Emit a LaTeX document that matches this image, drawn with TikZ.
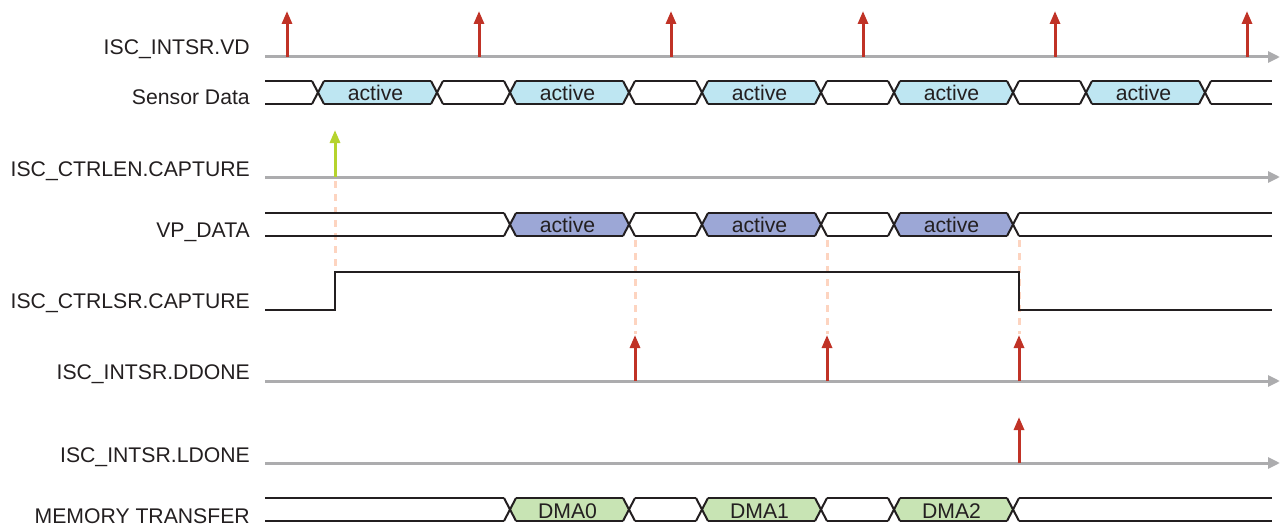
\documentclass[tikz,border=0pt]{standalone}
\usepackage{fontspec}
\setmainfont{Liberation Sans}
\usetikzlibrary{arrows.meta}
\definecolor{sigred}{RGB}{192,50,38}
\definecolor{siggreen}{RGB}{181,211,45}
\definecolor{axgray}{RGB}{172,172,174}
\definecolor{busblk}{RGB}{35,31,32}
\definecolor{dashor}{RGB}{253,212,192}
\definecolor{sensfill}{RGB}{190,230,242}
\definecolor{vpfill}{RGB}{156,167,214}
\definecolor{dmafill}{RGB}{200,228,180}
\tikzset{
  lbl/.style={anchor=east, text height=15.2pt, text depth=0pt, inner sep=0pt, text=busblk, font=\fontsize{21.2}{25}\selectfont},
  boxtxt/.style={text height=15.2pt, text depth=0pt, inner sep=0pt, text=busblk, font=\fontsize{21.2}{25}\selectfont},
  axis/.style={draw=axgray, line width=3pt, -{Triangle[width=11pt,length=12pt]}},
  bus/.style={draw=busblk, line width=2pt},
  lvl/.style={draw=busblk, line width=2.5pt},
  redarr/.style={draw=sigred, line width=3pt, -{Triangle[width=10pt,length=13pt]}},
  grnarr/.style={draw=siggreen, line width=3pt, -{Triangle[width=10pt,length=13pt]}},
  guide/.style={draw=dashor, line width=3pt, dash pattern=on 7pt off 6pt},
}
\begin{document}
\begin{tikzpicture}[x=1pt,y=-1pt]
\useasboundingbox (0,0) rectangle (1288,527);
% labels
\node[lbl] (l1) at (250,47) {ISC\_INTSR.VD};
\node[lbl] (l2) at (250,97) {Sensor Data};
\node[lbl] (l3) at (250,169) {ISC\_CTRLEN.CAPTURE};
\node[lbl] (l4) at (250,230) {VP\_DATA};
\node[lbl] (l5) at (250,301) {ISC\_CTRLSR.CAPTURE};
\node[lbl] (l6) at (250,372) {ISC\_INTSR.DDONE};
\node[lbl] (l7) at (250,455) {ISC\_INTSR.LDONE};
\node[lbl] (l8) at (250,516) {MEMORY TRANSFER};
% axis coordinates
\coordinate (vdS) at (265,57);   \coordinate (vdE) at (1280,57);
\coordinate (enS) at (265,177);  \coordinate (enE) at (1280,177);
\coordinate (ddS) at (265,381);  \coordinate (ddE) at (1280,381);
\coordinate (ldS) at (265,463);  \coordinate (ldE) at (1280,463);
% dashed guides
\draw[guide] (335,181) -- (335,270);
\foreach \x in {635,827,1019} {\draw[guide] (\x,240) -- (\x,334);}
% axes
\draw[axis] (vdS) -- (vdE);
\draw[axis] (enS) -- (enE);
\draw[axis] (ddS) -- (ddE);
\draw[axis] (ldS) -- (ldE);
% VD pulses
\foreach \x in {287,479,671,863,1055,1247} {\draw[redarr] (\x,57) -- (\x,11);}
% CTRLEN pulse
\draw[grnarr] (335,177) -- (335,130);
% DDONE pulses
\foreach \x in {635,827,1019} {\draw[redarr] (\x,381) -- (\x,335);}
% LDONE pulse
\draw[redarr] (1019,463) -- (1019,417);
% Sensor data bus
\foreach \a/\b in {318/437,510/629,702/821,894/1013,1086/1205}
  {\fill[sensfill] (\a,92.5) -- (\a+6,81) -- (\b-6,81) -- (\b,92.5) -- (\b-6,104) -- (\a+6,104) -- cycle;
   \node[boxtxt] (sd\a) at ({(\a+\b)/2-2},92.5) {active};}
\foreach \a/\b in {265/312,324/431,443/504,516/623,635/696,708/815,827/888,900/1007,1019/1080,1092/1199,1211/1272}
  {\draw[bus] (\a,81) -- (\b,81) (\a,104) -- (\b,104);}
\foreach \c in {318,437,510,629,702,821,894,1013,1086,1205}
  {\draw[bus] (\c-6,81) -- (\c+6,104) (\c-6,104) -- (\c+6,81);}
% VP_DATA bus
\foreach \a/\b in {510/629,702/821,894/1013}
  {\fill[vpfill] (\a,224.5) -- (\a+6,213) -- (\b-6,213) -- (\b,224.5) -- (\b-6,236) -- (\a+6,236) -- cycle;
   \node[boxtxt] (vp\a) at ({(\a+\b)/2-2},224.5) {active};}
\foreach \a/\b in {265/504,516/623,635/696,708/815,827/888,900/1007,1019/1272}
  {\draw[bus] (\a,213) -- (\b,213) (\a,236) -- (\b,236);}
\foreach \c in {510,629,702,821,894,1013}
  {\draw[bus] (\c-6,213) -- (\c+6,236) (\c-6,236) -- (\c+6,213);}
% Memory transfer bus
\foreach \a/\b/\t in {510/629/DMA0,702/821/DMA1,894/1013/DMA2}
  {\fill[dmafill] (\a,509.5) -- (\a+6,498) -- (\b-6,498) -- (\b,509.5) -- (\b-6,521) -- (\a+6,521) -- cycle;
   \node[boxtxt] (mt\a) at ({(\a+\b)/2-2},510.5) {\t};}
\foreach \a/\b in {265/504,516/623,635/696,708/815,827/888,900/1007,1019/1272}
  {\draw[bus] (\a,498) -- (\b,498) (\a,521) -- (\b,521);}
\foreach \c in {510,629,702,821,894,1013}
  {\draw[bus] (\c-6,498) -- (\c+6,521) (\c-6,521) -- (\c+6,498);}
% capture level
\draw[lvl] (265,310) -- (335,310) -- (335,272) -- (1019,272) -- (1019,310) -- (1272,310);
\end{tikzpicture}
\end{document}
